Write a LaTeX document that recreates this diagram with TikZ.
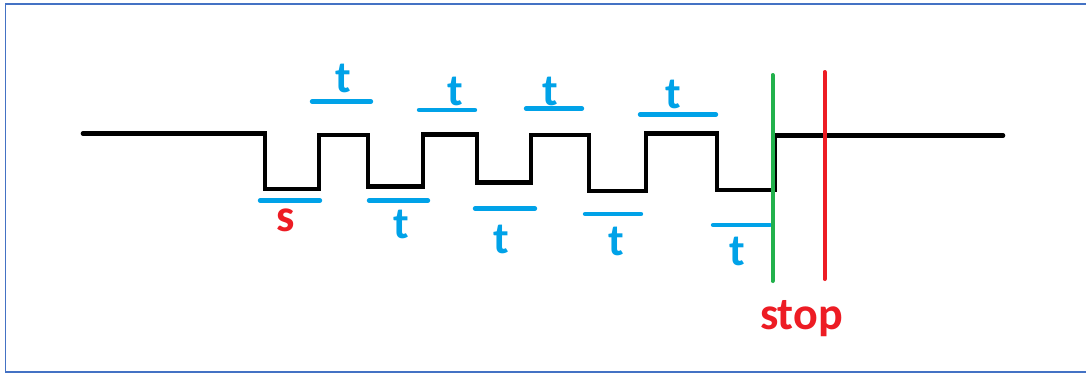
\documentclass[tikz,border=0pt]{standalone}
\usepackage{fontspec}
\setmainfont{Carlito}
\definecolor{paintblue}{RGB}{0,162,232}
\definecolor{paintred}{RGB}{237,28,36}
\definecolor{paintgreen}{RGB}{34,177,76}
\definecolor{frameblue}{RGB}{68,114,196}
\tikzset{
  signal/.style={line width=4.6pt, black, line cap=round, line join=miter},
  span/.style={line width=4.4pt, paintblue, line cap=round},
  marker/.style={line width=4pt, line cap=round},
  tlabel/.style={anchor=base, inner sep=0pt, text=paintblue, font=\fontsize{45}{45}\selectfont\bfseries},
  slabel/.style={anchor=base, inner sep=0pt, text=paintred, font=\fontsize{46}{46}\selectfont\bfseries},
}
\begin{document}
\begin{tikzpicture}[x=1pt, y=-1pt]
  % canvas and frame
  \fill[white] (0,0) rectangle (1086,373);
  \useasboundingbox (0,0) rectangle (1086,373);
  \begin{scope}
    \clip (0,0) rectangle (1086,373);
    \draw[frameblue, line width=1.8pt] (5.5,4) rectangle (1095,372);
  \end{scope}

  % serial line: idle, start bit, data bits, back to idle
  \draw[signal] (83,133.5) -- (265,133.5) -- (265,189) -- (319,189)
    -- (319,135) -- (368,135) -- (368,186.5) -- (423,186.5)
    -- (423,134.5) -- (477,134.5) -- (477,182.5) -- (531,182.5)
    -- (531,135) -- (589,135) -- (589,191) -- (646,191)
    -- (646,133.5) -- (717,133.5) -- (717,190) -- (775,190)
    -- (775,135.5) -- (1003,135.5);

  % bit-time spans
  \draw[span] (260,200.5) -- (320,200.5);
  \draw[span] (312,101.5) -- (371,101.5);
  \draw[span] (369,200.5) -- (428,200.5);
  \draw[span] (419,110) -- (475,110);
  \draw[span] (475,208.5) -- (535,208.5);
  \draw[span] (526,108.5) -- (582,108.5);
  \draw[span] (585,214) -- (641,214);
  \draw[span] (640,114.5) -- (716,114.5);
  \draw[span] (713,225) -- (770,225);

  % start and stop markers
  \draw[marker, paintgreen] (772.5,75) -- (772.5,281);
  \draw[marker, paintred] (824.5,72) -- (824.5,279);

  % labels
  \node[slabel] (s)  at (286,231) {s};
  \node[tlabel] (t1) at (343,92) {t};
  \node[tlabel] (t2) at (401.5,238) {t};
  \node[tlabel] (t3) at (455,105) {t};
  \node[tlabel] (t4) at (501.5,253) {t};
  \node[tlabel] (t5) at (550,105) {t};
  \node[tlabel] (t6) at (616.5,255) {t};
  \node[tlabel] (t7) at (673,108) {t};
  \node[tlabel] (t8) at (737,265) {t};
  \node[slabel] (stop) at (801.5,329) {stop};
\end{tikzpicture}
\end{document}
